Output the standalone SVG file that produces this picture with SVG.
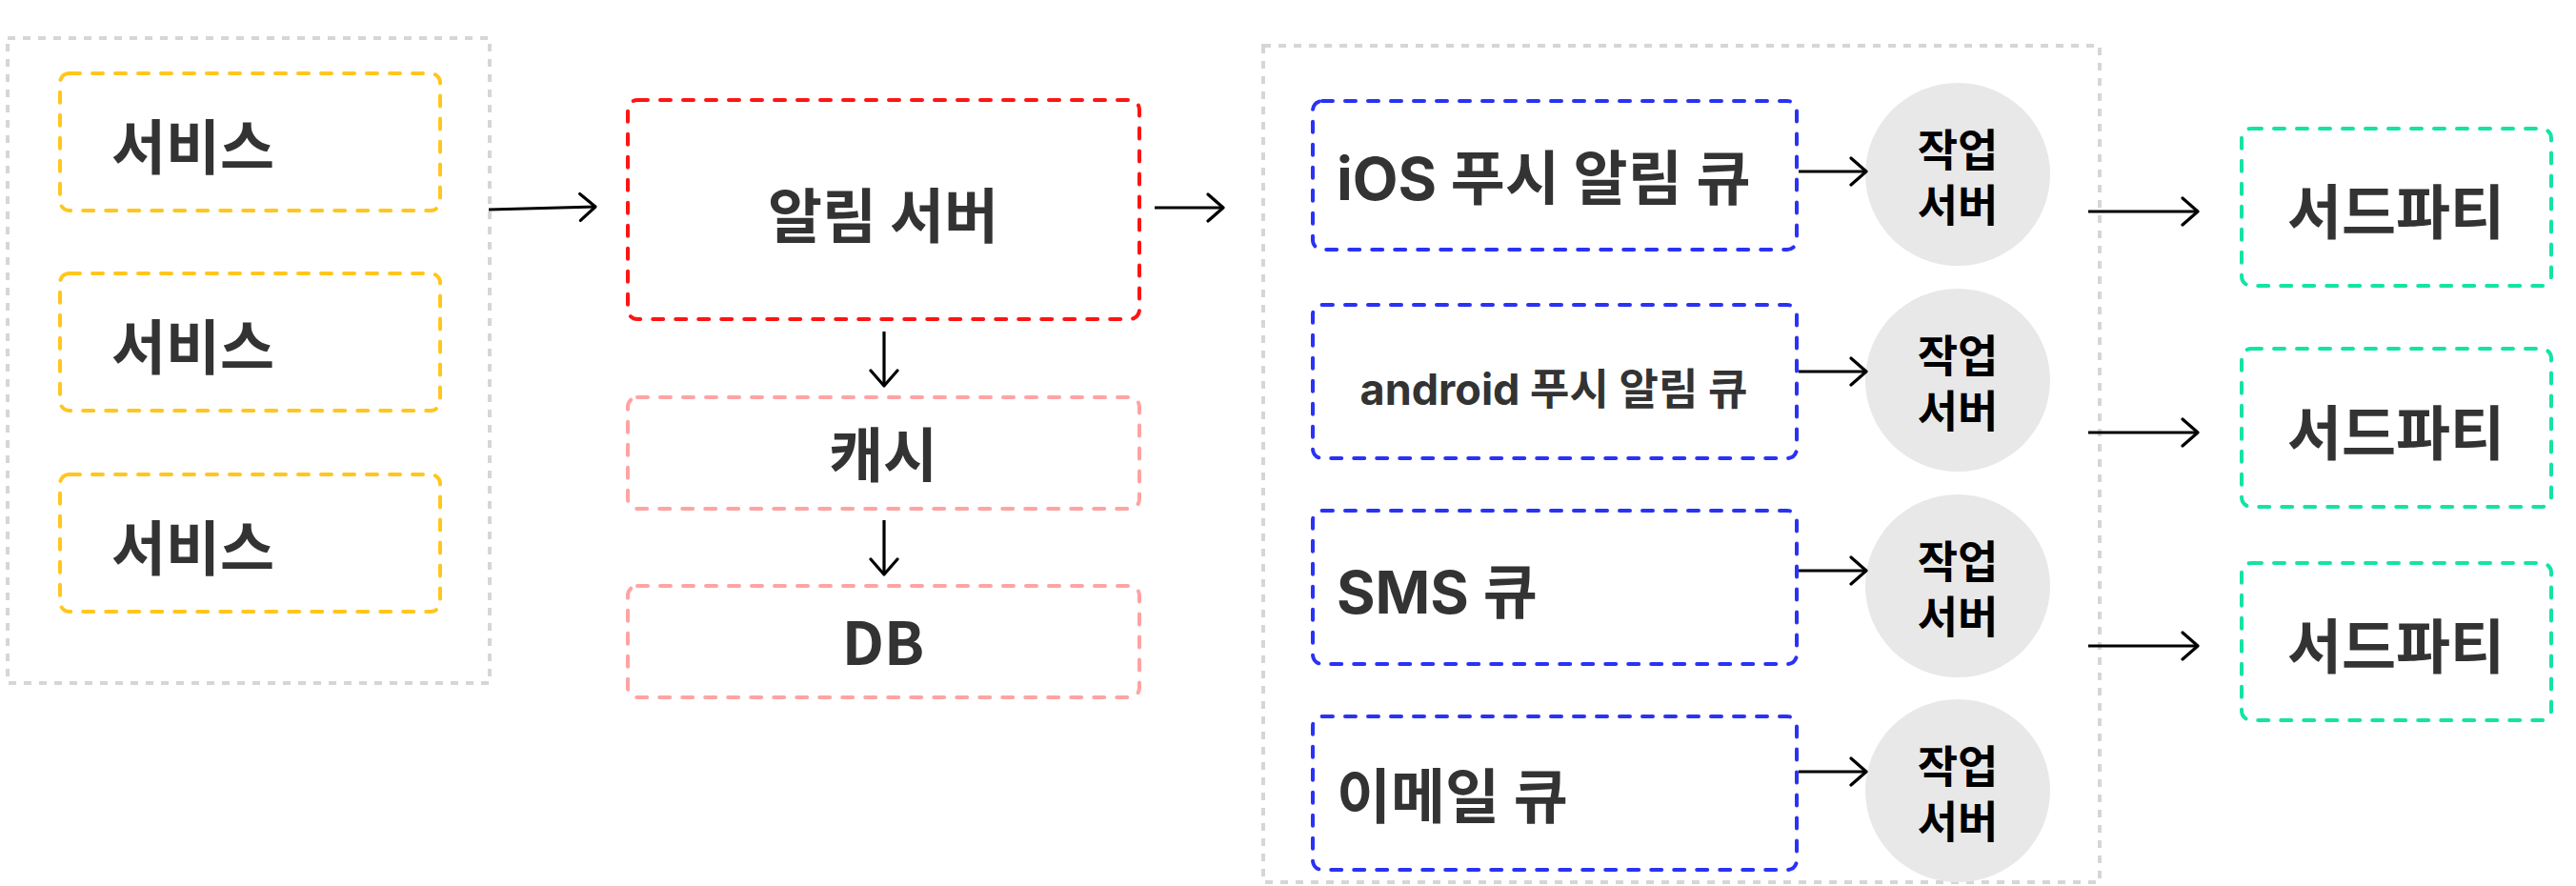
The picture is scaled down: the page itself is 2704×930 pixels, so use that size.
<svg xmlns="http://www.w3.org/2000/svg" width="2704" height="930" viewBox="0 0 2704 930">
<defs>
<marker id="ah" viewBox="-20 -16 24 32" refX="0" refY="0" markerWidth="24" markerHeight="32" markerUnits="userSpaceOnUse" orient="auto">
<path d="M-16,-14 L0,0 L-16,14" fill="none" stroke="#000" stroke-width="3.2" stroke-linecap="round" stroke-linejoin="round"/>
</marker>
</defs>
<style>
.grp{fill:none;stroke:#d6d6d6;stroke-width:4;stroke-dasharray:8 8}
.box{fill:#fff;stroke-width:4;stroke-dasharray:11 13;stroke-linecap:round}
.y{stroke:#ffc61e}
.r{stroke:#ff1414}
.p{stroke:#ffa3a3}
.b{stroke:#2a32f5}
.g{stroke:#14e3a4}
.t{font-family:"Noto Sans CJK KR","Noto Sans",sans-serif;font-weight:700;fill:#333;dominant-baseline:central}
.q{font-family:Inter,"Noto Sans CJK KR",sans-serif;font-weight:700;fill:#333;dominant-baseline:central}
.w{font-family:Inter,"Noto Sans CJK KR",sans-serif;font-weight:700;fill:#000;font-size:46px;text-anchor:middle;dominant-baseline:central}
.ell{fill:#e8e8e8}
.c{fill:none;stroke:#000;stroke-width:3.2;marker-end:url(#ah)}
</style>
<rect x="0" y="0" width="2704" height="930" fill="#fff"/>

<g id="services-group">
<rect class="grp" x="8" y="40" width="506" height="677"/>
</g>
<g id="service-1"><rect class="box y" x="63" y="77" width="399" height="144" rx="10"/><text class="t" x="117" y="151" font-size="62">서비스</text></g>
<g id="service-2"><rect class="box y" x="63" y="287" width="399" height="144" rx="10"/><text class="t" x="117" y="361" font-size="62">서비스</text></g>
<g id="service-3"><rect class="box y" x="63" y="498" width="399" height="144" rx="10"/><text class="t" x="117" y="572" font-size="62">서비스</text></g>

<g id="notification-server"><rect class="box r" x="659" y="105" width="537" height="230" rx="10"/><text class="t" x="927" y="223" font-size="62" text-anchor="middle">알림 서버</text></g>
<g id="cache"><rect class="box p" x="659" y="417" width="537" height="117" rx="10"/><text class="t" x="927" y="474" font-size="62" text-anchor="middle">캐시</text></g>
<g id="db"><rect class="box p" x="659" y="615" width="537" height="117" rx="10"/><text class="t" x="927" y="671" font-size="62" text-anchor="middle">DB</text></g>

<g id="queue-group">
<rect class="grp" x="1326" y="48" width="878" height="878"/>
</g>
<g id="ios-queue"><rect class="box b" x="1378" y="106" width="508" height="156" rx="10"/><text class="q" x="1403" y="187" font-size="62">iOS 푸시 알림 큐</text></g>
<g id="android-queue"><rect class="box b" x="1378" y="320" width="508" height="161" rx="10"/><text class="q" x="1631" y="408" font-size="45" text-anchor="middle">android 푸시 알림 큐</text></g>
<g id="sms-queue"><rect class="box b" x="1378" y="536" width="508" height="161" rx="10"/><text class="q" x="1403" y="621" font-size="62">SMS 큐</text></g>
<g id="email-queue"><rect class="box b" x="1378" y="752" width="508" height="161" rx="10"/><text class="q" x="1403" y="836" font-size="62">이메일 큐</text></g>

<g id="worker-1"><ellipse class="ell" cx="2055" cy="183" rx="97" ry="96"/><text class="w" x="2055" y="157">작업</text><text class="w" x="2055" y="215">서버</text></g>
<g id="worker-2"><ellipse class="ell" cx="2055" cy="399" rx="97" ry="96"/><text class="w" x="2055" y="373">작업</text><text class="w" x="2055" y="431">서버</text></g>
<g id="worker-3"><ellipse class="ell" cx="2055" cy="615" rx="97" ry="96"/><text class="w" x="2055" y="589">작업</text><text class="w" x="2055" y="647">서버</text></g>
<g id="worker-4"><ellipse class="ell" cx="2055" cy="830" rx="97" ry="96"/><text class="w" x="2055" y="804">작업</text><text class="w" x="2055" y="862">서버</text></g>

<g id="third-party-1"><rect class="box g" x="2353" y="135" width="325" height="165" rx="10"/><text class="t" x="2515" y="219" font-size="62" text-anchor="middle">서드파티</text></g>
<g id="third-party-2"><rect class="box g" x="2353" y="366" width="325" height="166" rx="10"/><text class="t" x="2515" y="451" font-size="62" text-anchor="middle">서드파티</text></g>
<g id="third-party-3"><rect class="box g" x="2353" y="591" width="325" height="165" rx="10"/><text class="t" x="2515" y="675" font-size="62" text-anchor="middle">서드파티</text></g>

<g id="connectors">
<path class="c" d="M513,220 L625,217"/>
<path class="c" d="M928,348 L928,405"/>
<path class="c" d="M928,546 L928,603"/>
<path class="c" d="M1212,218 L1284,218"/>
<path class="c" d="M1888,180 L1959,180"/>
<path class="c" d="M1888,390 L1959,390"/>
<path class="c" d="M1888,599 L1959,599"/>
<path class="c" d="M1888,810 L1959,810"/>
<path class="c" d="M2192,222 L2307,222"/>
<path class="c" d="M2192,454 L2307,454"/>
<path class="c" d="M2192,678 L2307,678"/>
</g>
</svg>
